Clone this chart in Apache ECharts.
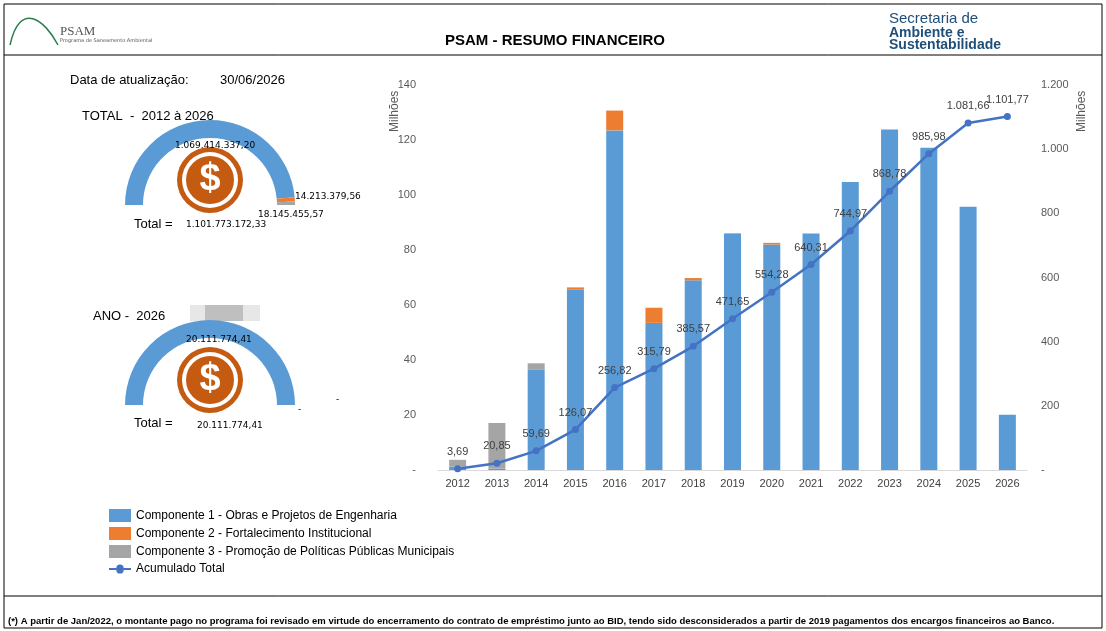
<!DOCTYPE html><html><head><meta charset="utf-8"><script src="https://cdn.jsdelivr.net/npm/echarts@6/dist/echarts.min.js"></script>
<style>body{margin:0;background:#fff}#c{width:1106px;height:631px}</style></head><body><div id="c"></div><script>
const years=['2012','2013','2014','2015','2016','2017','2018','2019','2020','2021','2022','2023','2024','2025','2026'];
const comp1=[1.2,0.5,36.4,65.6,123.5,53.5,69.0,86.0,82.0,86.0,104.7,123.8,117.2,95.7,20.1];
const comp2=[0,0,0,0.8,7.2,5.5,0.8,0.1,0.6,0,0,0,0,0,0];
const comp3=[2.5,16.6,2.4,0,0,0,0,0,0,0,0,0,0,0,0];
const acum=[3.69,20.85,59.69,126.07,256.82,315.79,385.57,471.65,554.28,640.31,744.97,868.78,985.98,1081.66,1101.77];
const totalParts=[1069414337.20,18145455.57,14213379.56];
const anoParts=[20111774.41,0,0];
const C=['#5b9bd5','#ed7d31','#a5a5a5'];
const fmt=v=>v.toFixed(2).replace('.',',').replace(/\B(?=(\d{3})+,)/g,'.');
function gauge(parts,cy){const s=parts.reduce((a,b)=>a+b,0);
 return {type:'pie',center:[210,cy],radius:[67,85],startAngle:180,clockwise:true,silent:true,label:{show:false},z:1,
 data:parts.map((v,i)=>({value:v,itemStyle:{color:C[i]}})).concat([{value:s,itemStyle:{color:'transparent'}}])};}
function dollar(cy){return [{type:'circle',z:50,shape:{cx:210,cy:cy-25,r:33},style:{fill:'#c55a11'}},
 {type:'circle',z:51,shape:{cx:210,cy:cy-25,r:28},style:{fill:'#fff'}},
 {type:'circle',z:52,shape:{cx:210,cy:cy-25,r:24},style:{fill:'#c55a11'}},
 {type:'text',z:53,x:210,y:cy-25,style:{text:'$',fill:'#fff',font:'bold 38px Arial',align:'center',verticalAlign:'middle'}}];}
const T=(x,y,t,f,o)=>Object.assign({type:'text',z:100,x,y,style:Object.assign({text:t,font:f||'13px "Liberation Sans"',fill:'#000'},o||{})});
const ch=echarts.init(document.getElementById('c'));
ch.setOption({animation:false,
grid:{left:438,right:79,top:85,bottom:161},
legend:{orient:'vertical',left:104,top:504,itemGap:5,itemWidth:22,itemHeight:13,textStyle:{fontSize:12,fontFamily:'Liberation Sans',color:'#000'},
 data:[{name:'Componente 1 - Obras e Projetos de Engenharia',icon:'rect'},{name:'Componente 2 - Fortalecimento Institucional',icon:'rect'},{name:'Componente 3 - Promoção de Políticas Públicas Municipais',icon:'rect'},{name:'Acumulado Total',icon:'path://M0,6L8,6A3,3,0,1,1,16,6L24,6L24,8L16,8A3,3,0,1,1,8,8L0,8Z'}]},
xAxis:{type:'category',data:years,axisTick:{show:false},axisLine:{lineStyle:{color:'#d9d9d9'}},axisLabel:{color:'#404040',fontSize:11,fontFamily:'Liberation Sans'}},
yAxis:[{type:'value',min:0,max:140,interval:20,splitLine:{show:false},axisLabel:{color:'#595959',fontSize:11,margin:22,fontFamily:'Liberation Sans',formatter:v=>v===0?'-':v}},
 {type:'value',min:0,max:1200,interval:200,splitLine:{show:false},
 axisLabel:{color:'#595959',fontSize:11,margin:14,fontFamily:'Liberation Sans',formatter:v=>v===0?'-':(v>=1000?(v/1000).toFixed(3):v)}}],
series:[
{name:'Componente 1 - Obras e Projetos de Engenharia',type:'bar',stack:'a',data:comp1,barWidth:17,itemStyle:{color:C[0]}},
{name:'Componente 2 - Fortalecimento Institucional',type:'bar',stack:'a',data:comp2,itemStyle:{color:C[1]}},
{name:'Componente 3 - Promoção de Políticas Públicas Municipais',type:'bar',stack:'a',data:comp3,itemStyle:{color:C[2]}},
{name:'Acumulado Total',type:'line',yAxisIndex:1,data:acum,symbol:'circle',symbolSize:7,itemStyle:{color:'#4472c4'},lineStyle:{width:2.5,color:'#4472c4'},
 label:{show:true,position:'top',distance:8,fontSize:11,fontFamily:'Liberation Sans',color:'#404040',formatter:p=>fmt(p.value)}},
gauge(totalParts,205),gauge([anoParts[0]],405)],
graphic:[
{type:'rect',shape:{x:4,y:4,width:1098,height:624},style:{fill:'none',stroke:'#000',lineWidth:1}},
{type:'line',shape:{x1:4,y1:55,x2:1102,y2:55},style:{stroke:'#000'}},
{type:'line',shape:{x1:4,y1:596,x2:1102,y2:596},style:{stroke:'#000'}},
T(555,41,'PSAM - RESUMO FINANCEIRO','bold 15px "Liberation Sans"',{align:'center',verticalAlign:'middle'}),
T(60,25,'PSAM','13px "Liberation Serif"',{fill:'#555'}),
T(60,38,'Programa de Saneamento Ambiental','5px "DejaVu Sans"',{fill:'#555'}),
{type:'bezierCurve',shape:{x1:10,y1:45,x2:58,y2:45,cpx1:20,cpy1:0,cpx2:45,cpy2:20},style:{stroke:'#2e7d4f',fill:'none',lineWidth:1.5}},
T(889,11,'Secretaria de','15px "Liberation Sans"',{fill:'#1f4e79'}),
T(889,26,'Ambiente e','bold 14px "Liberation Sans"',{fill:'#1f4e79'}),
T(889,38,'Sustentabilidade','bold 14px "Liberation Sans"',{fill:'#1f4e79'}),
{type:'text',z:100,x:389,y:132,rotation:Math.PI/2,style:{text:'Milhões',font:'12px "Liberation Sans"',fill:'#595959'}},
{type:'text',z:100,x:1076,y:132,rotation:Math.PI/2,style:{text:'Milhões',font:'12px "Liberation Sans"',fill:'#595959'}},
T(70,74,'Data de atualização:'),T(220,74,'30/06/2026'),
T(82,110,'TOTAL  -  2012 à 2026'),
T(175,141,fmt(totalParts[0]),'9px "DejaVu Sans"'),
T(295,192,fmt(totalParts[2]),'9px "DejaVu Sans"'),
T(258,210,fmt(totalParts[1]),'9px "DejaVu Sans"'),
T(134,218,'Total ='),T(186,220,fmt(totalParts.reduce((a,b)=>a+b,0)),'9px "DejaVu Sans"'),
T(93,310,'ANO -  2026'),
{type:'rect',shape:{x:190,y:305,width:70,height:16},style:{fill:'#e7e7e7'}},
{type:'rect',shape:{x:205,y:305,width:38,height:16},style:{fill:'#bfbfbf'}},
T(186,335,fmt(anoParts[0]),'9px "DejaVu Sans"'),
T(134,417,'Total ='),T(197,421,fmt(anoParts[0]),'9px "DejaVu Sans"'),
T(298,405,'-','9px "DejaVu Sans"'),T(336,395,'-','9px "DejaVu Sans"'),
T(8,616,'(*) A partir de Jan/2022, o montante pago no programa foi revisado em virtude do encerramento do contrato de empréstimo junto ao BID, tendo sido desconsiderados a partir de 2019 pagamentos dos encargos financeiros ao Banco.','bold 9.5px "Liberation Sans"'),
...dollar(205),...dollar(405)
]});
</script></body></html>
